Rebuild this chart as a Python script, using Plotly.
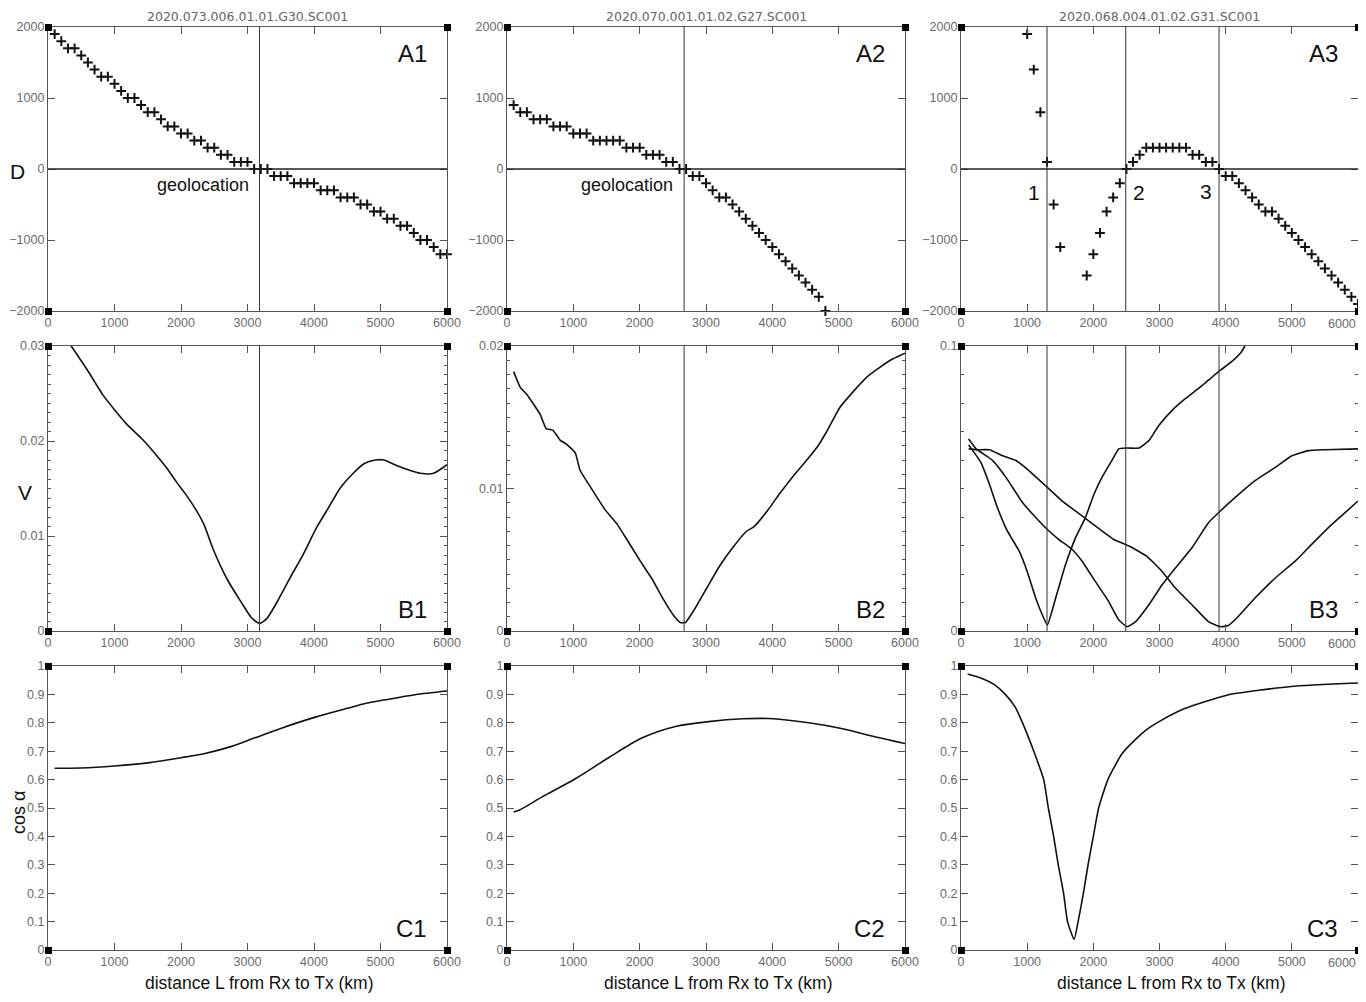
import plotly.graph_objects as go
from plotly.subplots import make_subplots

W, H = 1366, 1002          # browser window
PAD = 8                    # default body margin of the html page
FW, FH = W - 2 * PAD, H - 2 * PAD

# ---- data ----------------------------------------------------------------
titles = ['2020.073.006.01.01.G30.SC001', '2020.070.001.01.02.G27.SC001', '2020.068.004.01.02.G31.SC001']

# row A: D vs distance L (km)
a1_L = list(range(100, 6001, 100))
a1_D = [1900, 1800, 1700, 1700, 1600, 1500, 1400, 1300, 1300, 1200,
        1100, 1000, 1000, 900, 800, 800, 700, 600, 600, 500,
        500, 400, 400, 300, 300, 200, 200, 100, 100, 100,
        0, 0, 0, -100, -100, -100, -200, -200, -200, -200,
        -300, -300, -300, -400, -400, -400, -500, -500, -600, -600,
        -700, -700, -800, -800, -900, -1000, -1000, -1100, -1200, -1200]

a2_L = list(range(100, 4801, 100))
a2_D = [900, 800, 800, 700, 700, 700, 600, 600, 600, 500,
        500, 500, 400, 400, 400, 400, 400, 300, 300, 300,
        200, 200, 200, 100, 100, 0, 0, -100, -100, -200,
        -300, -400, -400, -500, -600, -700, -800, -900, -1000, -1100,
        -1200, -1300, -1400, -1500, -1600, -1700, -1800, -2000]

a3_L = [1000, 1100, 1200, 1300, 1400, 1500, 1900, 2000, 2100, 2200,
        2300, 2400, 2500, 2600, 2700, 2800, 2900, 3000, 3100, 3200,
        3300, 3400, 3500, 3600, 3700, 3800, 3900, 4000, 4100, 4200,
        4300, 4400, 4500, 4600, 4700, 4800, 4900, 5000, 5100, 5200,
        5300, 5400, 5500, 5600, 5700, 5800, 5900, 6000]
a3_D = [1900, 1400, 800, 100, -500, -1100, -1500, -1200, -900, -600,
        -400, -200, 0, 100, 200, 300, 300, 300, 300, 300,
        300, 300, 200, 200, 100, 100, 0, -100, -100, -200,
        -300, -400, -500, -600, -600, -700, -800, -900, -1000, -1100,
        -1200, -1300, -1400, -1500, -1600, -1700, -1800, -1900]

# geolocation lines (km)
geo_1 = [3180]
geo_2 = [2670]
geo_3 = [1300, 2490, 3900]

# row B: V vs L
b1_L = [100, 350, 580, 830, 1000, 1180, 1430, 1630, 1780, 1930,
        2080, 2230, 2340, 2490, 2690, 2890, 3060, 3180, 3290, 3440,
        3640, 3840, 4040, 4220, 4390, 4590, 4750, 4920, 5050, 5250,
        5450, 5600, 5800, 6000]
b1_V = [0.0327, 0.0300, 0.0276, 0.0248, 0.0233, 0.0218, 0.0201, 0.0185, 0.0172, 0.0157,
        0.0143, 0.0127, 0.0113, 0.0085, 0.0055, 0.0032, 0.0014, 0.0008, 0.0013, 0.0030,
        0.0056, 0.0081, 0.0109, 0.0130, 0.0150, 0.0166, 0.0176, 0.0180, 0.0180, 0.0174,
        0.0169, 0.0166, 0.0166, 0.0175]

b2_L = [100, 200, 300, 500, 590, 690, 800, 900, 1030, 1100,
        1300, 1480, 1660, 1810, 2010, 2180, 2360, 2510, 2610, 2690,
        2810, 3010, 3210, 3410, 3610, 3720, 3920, 4120, 4320, 4520,
        4690, 4820, 5020, 5220, 5420, 5620, 5820, 6000]
b2_V = [0.0182, 0.0171, 0.0166, 0.0152, 0.0142, 0.0141, 0.0134, 0.0131, 0.0125, 0.0113,
        0.0098, 0.0085, 0.0075, 0.0064, 0.0049, 0.0037, 0.0022, 0.0011, 0.0006, 0.0006,
        0.0014, 0.0030, 0.0046, 0.0059, 0.0070, 0.0073, 0.0084, 0.0097, 0.0109, 0.0120,
        0.0130, 0.0140, 0.0157, 0.0168, 0.0178, 0.0185, 0.0191, 0.0195]

b3a_L = [115, 300, 430, 550, 700, 880, 1000, 1130, 1230, 1305,
         1430, 1580, 1730, 1880, 2010, 2130, 2280, 2385, 2510, 2690,
         2840, 2990, 3190, 3390, 3590, 3740, 3920, 4090, 4240, 4290]
b3a_V = [0.0653, 0.0592, 0.0515, 0.0433, 0.0351, 0.0280, 0.0209, 0.0115, 0.0056, 0.0021,
         0.0115, 0.0233, 0.0327, 0.0398, 0.0480, 0.0539, 0.0598, 0.0639, 0.0642, 0.0642,
         0.0668, 0.0721, 0.0774, 0.0815, 0.0851, 0.0880, 0.0915, 0.0945, 0.0980, 0.1000]

b3b_L = [115, 230, 480, 680, 930, 1130, 1305, 1480, 1680, 1830,
         2030, 2230, 2385, 2510, 2640, 2840, 3040, 3240, 3490, 3740,
         3920, 4140, 4440, 4750, 5000, 5250, 5500, 6000]
b3b_V = [0.0674, 0.0639, 0.0598, 0.0539, 0.0451, 0.0398, 0.0356, 0.0321, 0.0286, 0.0245,
         0.0174, 0.0104, 0.0039, 0.0015, 0.0033, 0.0092, 0.0162, 0.0221, 0.0292, 0.0380,
         0.0421, 0.0468, 0.0527, 0.0574, 0.0615, 0.0633, 0.0636, 0.0639]

b3c_L = [115, 230, 430, 630, 830, 1030, 1280, 1530, 1830, 2130,
         2310, 2540, 2810, 3040, 3240, 3490, 3740, 3920, 4040, 4190,
         4440, 4750, 5050, 5300, 5550, 5750, 6000]
b3c_V = [0.0639, 0.0636, 0.0636, 0.0615, 0.0598, 0.0562, 0.0509, 0.0456, 0.0404, 0.0351,
         0.0321, 0.0298, 0.0262, 0.0209, 0.0151, 0.0092, 0.0033, 0.0015, 0.0019, 0.0051,
         0.0115, 0.0186, 0.0245, 0.0304, 0.0362, 0.0404, 0.0456]

# row C: cos(alpha) vs L
c1_L = [100, 500, 1000, 1500, 2000, 2360, 2760, 3110, 3520, 4020, 4520, 4770, 5070, 5520, 6000]
c1_V = [0.640, 0.641, 0.648, 0.659, 0.677, 0.692, 0.717, 0.747, 0.782, 0.820, 0.852, 0.868, 0.881, 0.899, 0.912]

c2_L = [100, 180, 530, 1030, 1530, 2040, 2540, 3040, 3550, 3950, 4550, 5060, 5560, 6000]
c2_V = [0.486, 0.492, 0.539, 0.603, 0.677, 0.747, 0.787, 0.804, 0.814, 0.815, 0.800, 0.779, 0.750, 0.727]

c3_L = [100, 300, 500, 670, 820, 920, 1000, 1100, 1250, 1320,
        1400, 1470, 1550, 1610, 1710, 1770, 1850, 1920, 2000, 2080,
        2220, 2430, 2630, 2830, 3000, 3380, 4030, 4990, 6000]
c3_V = [0.972, 0.958, 0.935, 0.900, 0.855, 0.805, 0.760, 0.700, 0.600, 0.500,
        0.400, 0.300, 0.200, 0.100, 0.037, 0.100, 0.200, 0.300, 0.400, 0.500,
        0.600, 0.690, 0.740, 0.780, 0.805, 0.850, 0.898, 0.928, 0.940]

# ---- layout --------------------------------------------------------------
COL_PX = ((48, 447), (507, 905), (961, 1358))   # page pixels of each plot box
ROW_PX = ((27, 311), (346, 631), (666, 950))
AX_COLOR = '#555'
LINE = '#111'
TICK_FONT = dict(family='Liberation Sans, Arial, sans-serif', size=12.5, color='#6a6a6a')
LABEL_FONT = 'Liberation Sans, Arial, sans-serif'


def fx(p):
    return (p - PAD) / FW


def fy(p):
    return 1 - (p - PAD) / FH


fig = make_subplots(rows=3, cols=3)

minor_b = dict(ticklen=3, ticks='inside', tickcolor=AX_COLOR)
y_specs = [
    dict(range=[-2000, 2000], dtick=1000),
    dict(range=[0, 0.03], dtick=0.01, minor=dict(dtick=0.001, **minor_b)),
    dict(range=[0, 0.02], dtick=0.01, minor=dict(dtick=0.001, **minor_b)),
    dict(range=[0, 0.1], dtick=0.1, minor=dict(dtick=0.01, **minor_b)),
    dict(range=[0, 1], dtick=0.1),
]


def y_spec(r, c):
    if r == 0:
        return y_specs[0]
    if r == 1:
        return y_specs[1 + c]
    return y_specs[4]


for r in range(3):
    for c in range(3):
        n = r * 3 + c + 1
        sfx = '' if n == 1 else str(n)
        x0, x1 = COL_PX[c]
        y0, y1 = ROW_PX[r]
        fig.update_layout({
            f'xaxis{sfx}': dict(domain=[fx(x0), fx(x1)], range=[0, 6000], tick0=0, dtick=1000,
                               ticks='inside', ticklen=7, tickcolor=AX_COLOR, showline=True,
                               linecolor=AX_COLOR, linewidth=1.2, mirror='ticks', showgrid=False,
                               zeroline=False, tickfont=TICK_FONT, automargin=False),
            f'yaxis{sfx}': dict(domain=[fy(y1), fy(y0)], tick0=0, ticks='inside', ticklen=7,
                               tickcolor=AX_COLOR, showline=True, linecolor=AX_COLOR, linewidth=1.2,
                               mirror='ticks', showgrid=False, zeroline=False, tickfont=TICK_FONT,
                               automargin=False, **y_spec(r, c)),
        })


def cross(xs, ys, row, col):
    fig.add_trace(go.Scatter(x=xs, y=ys, mode='markers', cliponaxis=False,
                             marker=dict(symbol='cross-thin', size=7, line=dict(width=2, color=LINE))),
                  row=row, col=col)


def curve(xs, ys, row, col, smooth=0.6):
    fig.add_trace(go.Scatter(x=xs, y=ys, mode='lines',
                             line=dict(color=LINE, width=1.6, shape='spline', smoothing=smooth)),
                  row=row, col=col)


cross(a1_L, a1_D, 1, 1)
cross(a2_L, a2_D, 1, 2)
cross(a3_L, a3_D, 1, 3)
curve(b1_L, b1_V, 2, 1)
curve(b2_L, b2_V, 2, 2, 0.4)
curve(b3a_L, b3a_V, 2, 3, 0.4)
curve(b3b_L, b3b_V, 2, 3, 0.4)
curve(b3c_L, b3c_V, 2, 3, 0.4)
curve(c1_L, c1_V, 3, 1, 0.8)
curve(c2_L, c2_V, 3, 2, 0.8)
curve(c3_L, c3_V, 3, 3, 0.5)

shapes = []
# geolocation verticals in rows A and B, zero lines in row A
for c, geo in enumerate((geo_1, geo_2, geo_3)):
    for r in range(2):
        n = r * 3 + c + 1
        sfx = '' if n == 1 else str(n)
        for g in geo:
            shapes.append(dict(type='line', xref=f'x{sfx}', yref=f'y{sfx} domain', x0=g, x1=g, y0=0, y1=1,
                               line=dict(color='#333', width=1)))
    sfx = '' if c == 0 else str(c + 1)
    shapes.append(dict(type='line', xref=f'x{sfx} domain', yref=f'y{sfx}', x0=0, x1=1, y0=0, y1=0,
                       line=dict(color='#222', width=1.5)))

# little black squares at the plot corners
for n in range(1, 10):
    sfx = '' if n == 1 else str(n)
    for xa in (0, 1):
        for ya in (0, 1):
            shapes.append(dict(type='rect', xref=f'x{sfx} domain', yref=f'y{sfx} domain',
                               xsizemode='pixel', ysizemode='pixel', xanchor=xa, yanchor=ya,
                               x0=-3, x1=4, y0=-4, y1=3, fillcolor='black', line=dict(width=0)))

ann = []


def paper_text(px, py, text, size, color='#111', family=LABEL_FONT, angle=0):
    ann.append(dict(xref='paper', yref='paper', x=fx(px), y=fy(py), xanchor='center', yanchor='middle',
                    text=text, textangle=angle, showarrow=False, borderpad=0,
                    font=dict(family=family, size=size, color=color)))


# column titles and x titles
for c in range(3):
    x0, x1 = COL_PX[c]
    paper_text((x0 + x1) / 2, 17, titles[c], 12.5, '#666', 'DejaVu Sans')
    paper_text((x0 + x1) / 2 + 12, 983, 'distance L from Rx to Tx (km)', 17.5)

# last x tick label of the right column sits on the page edge (plotly drops it)
for r in range(3):
    n = r * 3 + 3
    ann.append(dict(xref=f'x{n}', yref=f'y{n} domain', x=6000, y=0, xanchor='right', yanchor='top',
                    yshift=-4, text='6000', showarrow=False, font=TICK_FONT))

# panel labels
for r, letter in enumerate('ABC'):
    for c in range(3):
        n = r * 3 + c + 1
        sfx = '' if n == 1 else str(n)
        ann.append(dict(xref=f'x{sfx} domain', yref=f'y{sfx} domain', x=0.955, y=0.905 if r == 0 else 0.075,
                        xanchor='right', yanchor='middle', text=f'{letter}{c + 1}', showarrow=False,
                        font=dict(family=LABEL_FONT, size=24, color='#111')))

# y titles
paper_text(17, 171, 'D', 21)
paper_text(25, 493, 'V', 21)
paper_text(19, 812, 'cos α', 18, angle=-90)

# geolocation texts
ann.append(dict(xref='x', yref='y', x=3050, y=-220, xanchor='right', yanchor='middle', text='geolocation',
                showarrow=False, font=dict(family=LABEL_FONT, size=18, color='#111')))
ann.append(dict(xref='x2', yref='y2', x=2540, y=-220, xanchor='right', yanchor='middle', text='geolocation',
                showarrow=False, font=dict(family=LABEL_FONT, size=18, color='#111')))
for txt, lx, ly in (('1', 1110, -330), ('2', 2690, -330), ('3', 3710, -310)):
    ann.append(dict(xref='x3', yref='y3', x=lx, y=ly, text=txt, showarrow=False,
                    font=dict(family=LABEL_FONT, size=21, color='#111')))

fig.update_layout(width=FW, height=FH, margin=dict(l=0, r=0, t=0, b=0, autoexpand=False), showlegend=False,
                  paper_bgcolor='white', plot_bgcolor='white', shapes=shapes, annotations=ann)

fig.write_html('out.html')
